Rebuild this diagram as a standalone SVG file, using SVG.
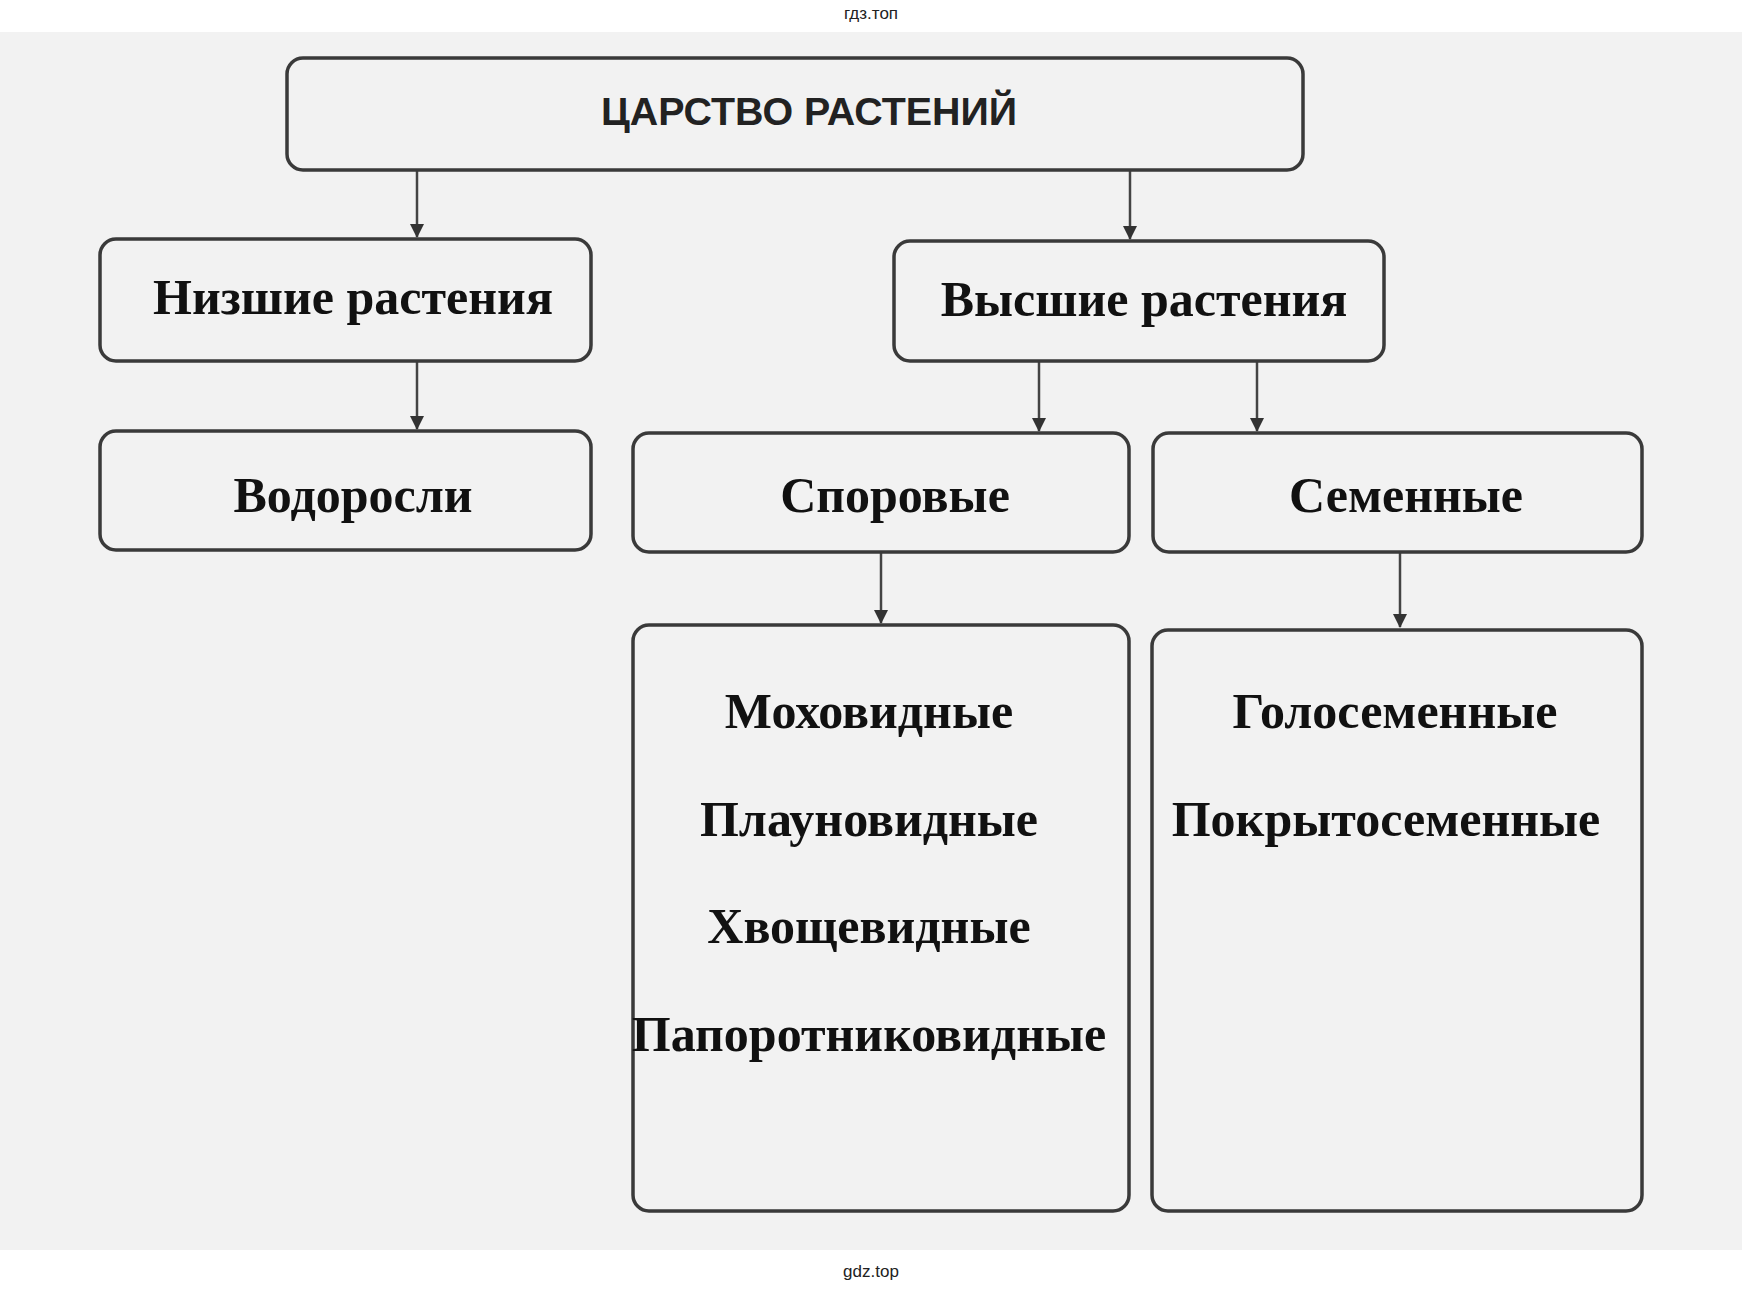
<svg xmlns="http://www.w3.org/2000/svg" width="1742" height="1291" viewBox="0 0 1742 1291">
<style>
.box{fill:none;stroke:#3a3a3a;stroke-width:3.5}
.t{font-family:"Liberation Serif",serif;font-weight:bold;font-size:50px;fill:#111;text-anchor:middle}
.c line{stroke:#444;stroke-width:2.5;marker-end:url(#a)}
.s{font-family:"Liberation Sans",sans-serif;font-size:17px;fill:#222;text-anchor:middle}
</style>
<defs><marker id="a" markerWidth="14" markerHeight="18" refX="13" refY="7" orient="auto" markerUnits="userSpaceOnUse"><path d="M0,0 L14,7 L0,14 Z" fill="#333"/></marker></defs>
<rect width="1742" height="1291" fill="#fff"/>
<rect x="0" y="32" width="1742" height="1218" fill="#f2f2f2"/>
<text class="s" x="871" y="19">гдз.топ</text>
<text class="s" x="871" y="1277">gdz.top</text>
<g class="c">
<line x1="417" y1="170" x2="417" y2="237"/>
<line x1="1130" y1="170" x2="1130" y2="239"/>
<line x1="417" y1="361" x2="417" y2="429"/>
<line x1="1039" y1="361" x2="1039" y2="431"/>
<line x1="1257" y1="361" x2="1257" y2="431"/>
<line x1="881" y1="552" x2="881" y2="623"/>
<line x1="1400" y1="552" x2="1400" y2="627"/>
</g>
<g id="root"><rect class="box" x="287" y="58" width="1016" height="112" rx="16" fill="#fff"/><text x="809" y="125" font-family="Liberation Sans,sans-serif" font-weight="bold" font-size="38" text-anchor="middle" fill="#222" textLength="416" lengthAdjust="spacingAndGlyphs">ЦАРСТВО РАСТЕНИЙ</text></g>
<g id="low"><rect class="box" x="100" y="239" width="491" height="122" rx="16"/><text class="t" x="353" y="314">Низшие растения</text></g>
<g id="high"><rect class="box" x="894" y="241" width="490" height="120" rx="16"/><text class="t" x="1144" y="316">Высшие растения</text></g>
<g id="algae"><rect class="box" x="100" y="431" width="491" height="119" rx="16"/><text class="t" x="353" y="512">Водоросли</text></g>
<g id="spore"><rect class="box" x="633" y="433" width="496" height="119" rx="16"/><text class="t" x="895" y="512">Споровые</text></g>
<g id="seed"><rect class="box" x="1153" y="433" width="489" height="119" rx="16"/><text class="t" x="1406" y="512">Семенные</text></g>
<g id="sporelist"><rect class="box" x="633" y="625" width="496" height="586" rx="16"/>
<text class="t" x="869" y="728">Моховидные</text><text class="t" x="869" y="836">Плауновидные</text><text class="t" x="869" y="943">Хвощевидные</text><text class="t" x="869" y="1051">Папоротниковидные</text></g>
<g id="seedlist"><rect class="box" x="1152" y="630" width="490" height="581" rx="16"/>
<text class="t" x="1395" y="728">Голосеменные</text><text class="t" x="1386" y="836">Покрытосеменные</text></g>
</svg>
